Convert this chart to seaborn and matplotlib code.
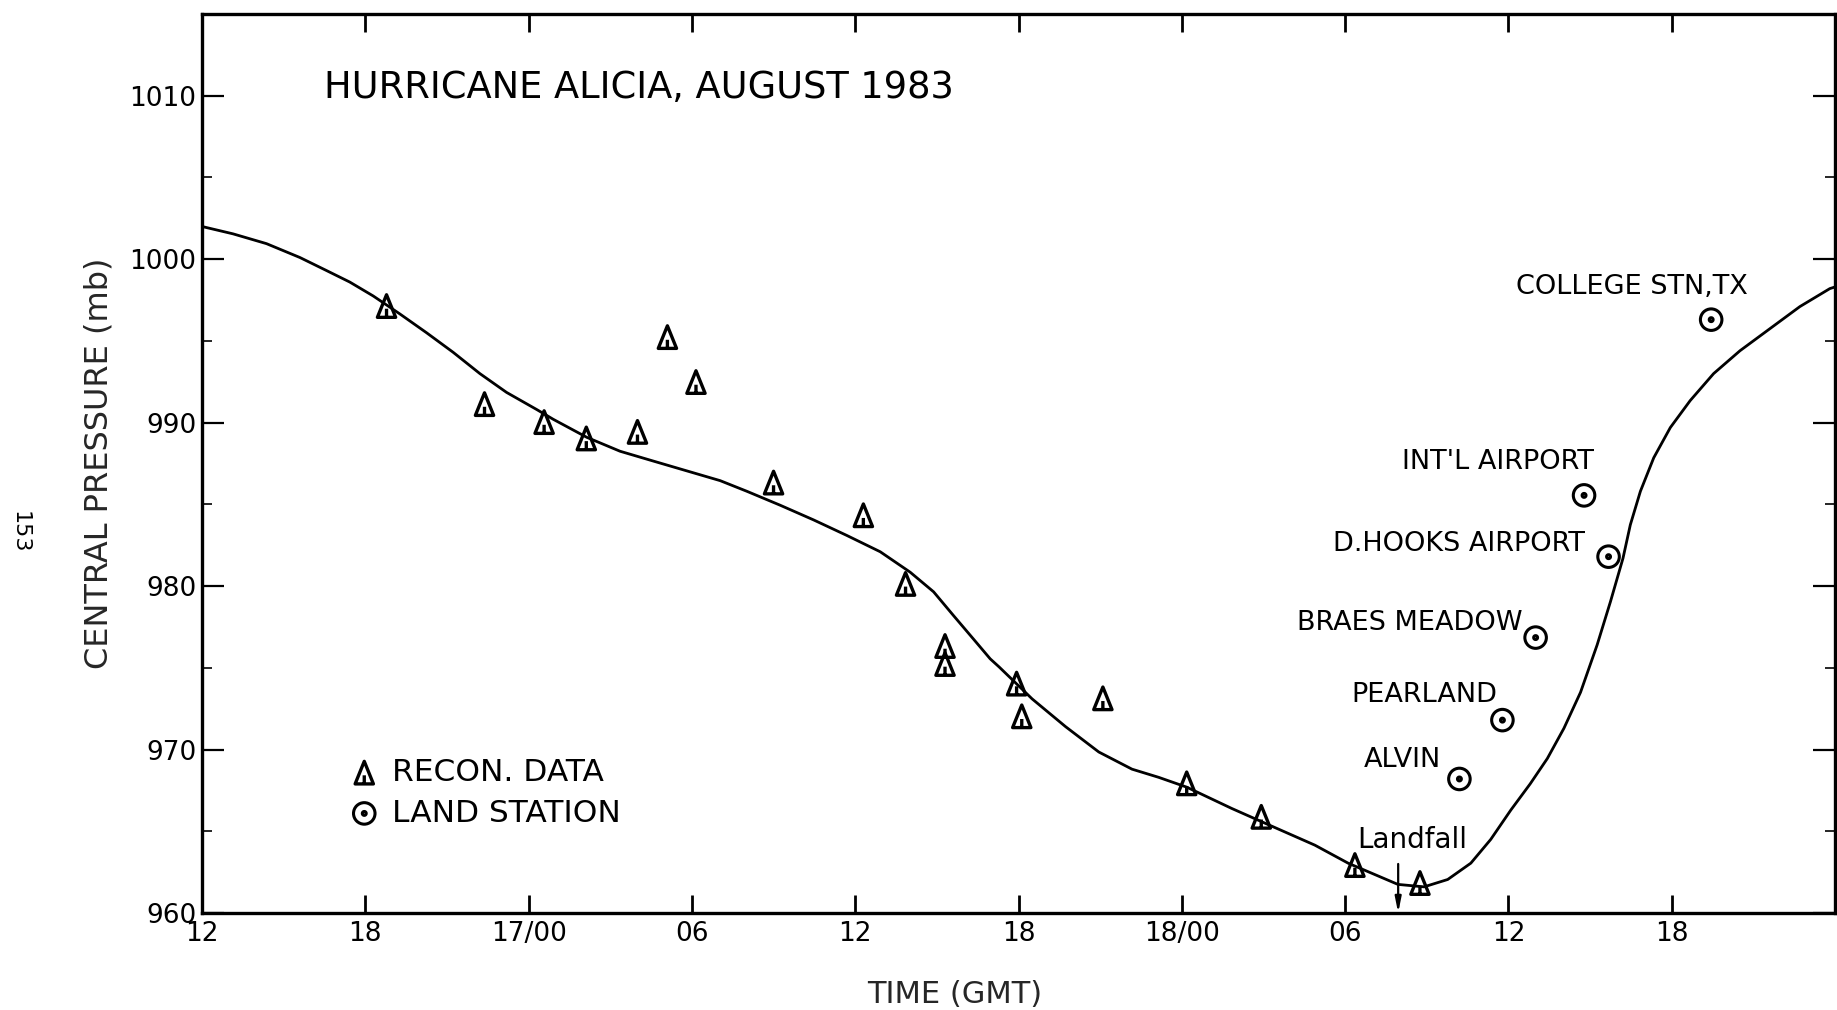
import matplotlib
matplotlib.use("Agg")
import matplotlib.pyplot as plt
from matplotlib.path import Path
import seaborn as sns
import pandas as pd

# ---------------- data ----------------
# hours after 16 Aug 12 GMT
curve_hours = [0.0, 1.14, 2.37, 3.6, 4.58, 5.43, 6.29, 7.27, 8.25, 9.23, 10.21,
               11.19, 12.3, 12.91, 14.14, 15.36, 16.58, 17.81, 19.04, 20.02,
               21.24, 22.47, 23.69, 24.92, 26.02, 26.88, 27.61, 28.35, 28.96,
               29.29, 30.5, 31.73, 32.95, 34.17, 35.15, 36.18, 37.83, 39.05,
               40.89, 42.11, 43.94, 44.9, 45.77, 46.62, 47.35, 48.09, 48.8,
               49.43, 50.04, 50.65, 51.26, 51.75, 52.21, 52.48, 52.85, 53.34,
               53.95, 54.68, 55.54, 56.51, 57.61, 58.71, 59.81, 60.0]
curve_pressure = [1002.0, 1001.55, 1000.95, 1000.1, 999.3, 998.6, 997.75,
                  996.65, 995.5, 994.3, 993.0, 991.85, 990.8, 990.2, 989.1,
                  988.25, 987.65, 987.05, 986.45, 985.8, 984.95, 984.05, 983.1,
                  982.1, 980.85, 979.65, 978.2, 976.75, 975.55, 975.05, 973.1,
                  971.4, 969.85, 968.8, 968.3, 967.7, 966.4, 965.5, 964.15,
                  963.05, 961.75, 961.6, 962.05, 963.05, 964.5, 966.3, 967.9,
                  969.45, 971.3, 973.5, 976.4, 979.05, 981.7, 983.75, 985.8,
                  987.85, 989.7, 991.35, 993.0, 994.4, 995.75, 997.1, 998.2,
                  998.3]

recon_hours = [6.78, 10.38, 12.57, 14.12, 16.0, 17.1, 18.15, 21.0, 24.3, 25.85,
               27.3, 27.3, 29.93, 30.12, 33.1, 36.18, 38.92, 42.36, 44.75]
recon_pressure = [997.1, 991.1, 990.0, 989.0, 989.4, 995.2, 992.45, 986.3, 984.3,
                  980.1, 976.3, 975.2, 974.0, 972.0, 973.1, 967.9, 965.85, 962.9,
                  961.8]

station_names = ["COLLEGE STN,TX", "INT'L AIRPORT", "D.HOOKS AIRPORT",
                 "BRAES MEADOW", "PEARLAND", "ALVIN"]
station_hours = [55.45, 50.78, 51.68, 49.0, 47.78, 46.2]
station_pressure = [996.3, 985.55, 981.8, 976.85, 971.8, 968.2]

landfall_hour = 43.95

x_ticks = [0, 6, 12, 18, 24, 30, 36, 42, 48, 54]
x_tick_labels = ["12", "18", "17/00", "06", "12", "18", "18/00", "06", "12", "18"]
y_ticks = [960, 970, 980, 990, 1000, 1010]
y_minor_ticks = [965, 975, 985, 995, 1005]

# ---------------- layout (label anchor positions, data coords) ----------------
station_label_pos = [(52.55, 997.86), (47.62, 987.18), (46.19, 982.13),
                     (44.36, 977.31), (44.9, 972.91), (44.1, 968.92)]
landfall_label_pos = (44.45, 964.0)

# ---------------- style ----------------
sns.set_style("white")
plt.rcParams["font.family"] = ["DejaVu Sans"]
plt.rcParams["text.color"] = "black"

fig = plt.figure(figsize=(18.37, 10.10), dpi=100)
ax = fig.add_axes([202 / 1837, 97 / 1010, (1835 - 202) / 1837, (913 - 14) / 1010])

# custom markers
tri_marker = Path([(-0.85, -1.0), (0.85, -1.0), (0.0, 1.1), (-0.85, -1.0),
                   (0.0, -1.0), (0.0, -0.2)],
                  [Path.MOVETO, Path.LINETO, Path.LINETO, Path.CLOSEPOLY,
                   Path.MOVETO, Path.LINETO])
dot_circle_marker = Path.make_compound_path(Path.unit_circle(),
                                            Path.circle((0, 0), 0.18))

curve_df = pd.DataFrame({"hour": curve_hours, "pressure": curve_pressure})
recon_df = pd.DataFrame({"hour": recon_hours, "pressure": recon_pressure})
station_df = pd.DataFrame({"hour": station_hours, "pressure": station_pressure,
                           "name": station_names})

sns.lineplot(data=curve_df, x="hour", y="pressure", ax=ax, color="black",
             linewidth=2.0, estimator=None, sort=False)
sns.scatterplot(data=recon_df, x="hour", y="pressure", ax=ax, marker=tri_marker,
                s=290, color="black", facecolor="none", edgecolor="black",
                linewidth=2.4, label="RECON. DATA", zorder=3)
sns.scatterplot(data=station_df, x="hour", y="pressure", ax=ax,
                marker=dot_circle_marker, s=240, color="black", facecolor="none",
                edgecolor="black", linewidth=2.2, label="LAND STATION", zorder=3)

for name, (lx, ly) in zip(station_names, station_label_pos):
    ax.text(lx, ly, name, ha="center", va="baseline", fontsize=19.5)

ax.text(landfall_label_pos[0], landfall_label_pos[1], "Landfall", ha="center",
        va="baseline", fontsize=20)
ax.annotate("", xy=(landfall_hour, 960.0), xytext=(landfall_hour, 963.0),
            arrowprops=dict(arrowstyle="-|>,head_length=0.9,head_width=0.18",
                            color="black", lw=1.6, shrinkA=0, shrinkB=0))

ax.text(0.075, 0.907, "HURRICANE ALICIA, AUGUST 1983", transform=ax.transAxes,
        ha="left", va="baseline", fontsize=26.5)

# axes
ax.set_xlim(0, 60)
ax.set_ylim(960, 1015)
ax.set_xticks(x_ticks)
ax.set_xticklabels(x_tick_labels)
ax.set_yticks(y_ticks)
ax.set_yticklabels([str(v) for v in y_ticks])
ax.set_yticks(y_minor_ticks, minor=True)
ax.tick_params(axis="x", which="major", direction="in", length=13, width=2.0,
               top=True, bottom=True, labelsize=19, pad=6, colors="black")
ax.tick_params(axis="y", which="major", direction="in", length=16, width=1.6,
               left=True, right=True, labelsize=19, pad=4, colors="black")
ax.tick_params(axis="y", which="minor", direction="in", length=7, width=1.4,
               left=True, right=True)
for sp in ax.spines.values():
    sp.set_visible(True)
    sp.set_color("black")
    sp.set_linewidth(2.4)

ax.set_xlabel("TIME (GMT)", fontsize=22)
ax.set_ylabel("CENTRAL PRESSURE (mb)", fontsize=23)
ax.xaxis.set_label_coords(0.461, -0.075)
ax.yaxis.set_label_coords(-0.0536, 0.5)

ax.legend(loc="upper left", bbox_to_anchor=(0.0898, 0.172), frameon=False,
          fontsize=22.5, scatterpoints=1, handlelength=1.0, handletextpad=0.4,
          borderpad=0, borderaxespad=0, labelspacing=0.36)

fig.text(20 / 1837, 1 - 532 / 1010, "153", rotation=-90, ha="center",
         va="center", fontsize=16)

fig.savefig("out.png", dpi=100)
